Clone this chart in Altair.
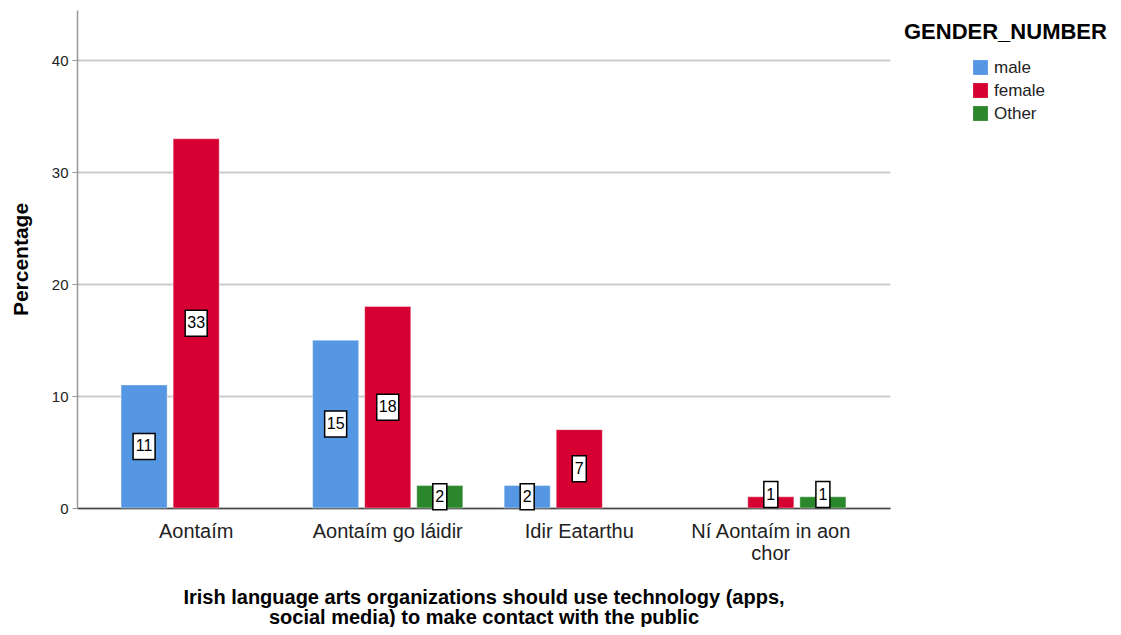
import altair as alt
import pandas as pd

categories = ["Aontaím", "Aontaím go láidir", "Idir Eatarthu", "Ní Aontaím in aon chor"]
genders = ["male", "female", "Other"]
male = [11, 15, 2, None]
female = [33, 18, 7, 1]
other = [None, 2, None, 1]
colors = ["#5597E3", "#D60032", "#2B872B"]
legend_title = "GENDER_NUMBER"
x_title = ["Irish language arts organizations should use technology (apps,",
           "social media) to make contact with the public"]
y_title = "Percentage"

rows = []
for series, g in zip([male, female, other], genders):
    for c, v in zip(categories, series):
        if v is not None:
            rows.append({"cat": c, "gender": g, "value": v})
df = pd.DataFrame(rows)

FONT = "Liberation Sans"

xscale = alt.Scale(domain=categories, paddingInner=0.2156, paddingOuter=0.23)
xoff = alt.XOffset("gender:N", scale=alt.Scale(domain=genders, paddingInner=0.115, paddingOuter=0))
yscale = alt.Scale(domain=[0, 44.5], nice=False)

x_axis = alt.Axis(
    title=x_title, titleFont=FONT, titleFontSize=20, titleFontWeight="bold",
    titleColor="black", titleY=79, titleBaseline="top", titleLineHeight=20,
    labelFont=FONT, labelFontSize=20, labelColor="#222", labelPadding=13,
    labelAngle=0, labelLineHeight=22,
    labelExpr="datum.label == 'Ní Aontaím in aon chor' ? ['Ní Aontaím in aon', 'chor'] : datum.label",
    ticks=False, domainColor="#444", domainWidth=1.5, grid=False,
)
y_axis = alt.Axis(
    title=y_title, titleFont=FONT, titleFontSize=21, titleFontWeight="bold",
    titleColor="black", titlePadding=20,
    labelFont=FONT, labelFontSize=15, labelColor="#222", labelPadding=4,
    values=[0, 10, 20, 30, 40], tickSize=5, tickColor="#999", domainColor="#999",
    domainWidth=1.5, gridColor="#cccccc", gridWidth=2,
)

base = alt.Chart(df).encode(
    x=alt.X("cat:N", scale=xscale, axis=x_axis, sort=categories),
    xOffset=xoff,
)

bars = base.mark_bar(stroke="white", strokeOpacity=0.4, strokeWidth=1).encode(
    y=alt.Y("value:Q", scale=yscale, axis=y_axis),
    color=alt.Color("gender:N", scale=alt.Scale(domain=genders, range=colors),
                    legend=alt.Legend(title=None, orient="none", legendX=895, legendY=49,
                                      symbolType="square", symbolSize=220,
                                      symbolStrokeWidth=0, labelFont=FONT,
                                      labelFontSize=17, labelColor="#222",
                                      rowPadding=5, labelOffset=5)),
)

lab = base.transform_calculate(
    mid="datum.value < 2 ? 1.2 : datum.value / 2",
    lo="(datum.value < 2 ? 1.2 : datum.value / 2) - 1.16",
    hi="(datum.value < 2 ? 1.2 : datum.value / 2) + 1.16",
    digits="length(toString(datum.value))",
)

box1 = lab.transform_filter("datum.digits == 1").mark_bar(
    width=14, fill="white", stroke="black", strokeWidth=1.5
).encode(y=alt.Y("lo:Q", scale=yscale), y2="hi:Q")
box2 = lab.transform_filter("datum.digits == 2").mark_bar(
    width=22, fill="white", stroke="black", strokeWidth=1.5
).encode(y=alt.Y("lo:Q", scale=yscale), y2="hi:Q")
txt = lab.mark_text(font=FONT, fontSize=16, color="black", baseline="middle").encode(
    y=alt.Y("mid:Q", scale=yscale), text="value:Q"
)

leg_title = alt.Chart(pd.DataFrame({"t": [legend_title]})).mark_text(
    font=FONT, fontSize=22, fontWeight="bold", align="left", baseline="middle", color="black"
).encode(x=alt.value(827), y=alt.value(22), text="t:N")

chart = alt.layer(bars, box1, box2, txt, leg_title).properties(
    width=813, height=498,
    autosize=alt.AutoSizeParams(type="none"),
    padding={"left": 69, "top": 2, "right": 223, "bottom": 119},
).configure_view(stroke=None).configure_legend(padding=0)

chart.save("out.html", embed_options={"renderer": "svg", "actions": False})
